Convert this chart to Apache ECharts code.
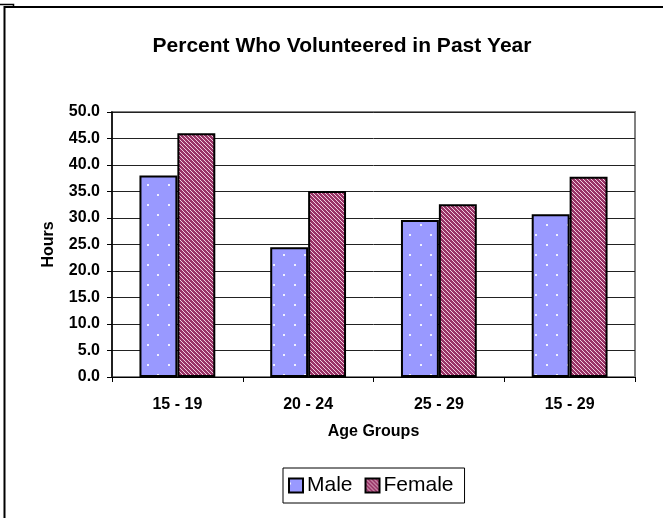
<!DOCTYPE html>
<html><head><meta charset="utf-8">
<script src="https://cdn.jsdelivr.net/npm/echarts@6/dist/echarts.min.js"></script>
<style>html,body{margin:0;padding:0;background:#fff}#c{width:663px;height:518px}</style>
</head><body><div id="c"></div>
<script>
const categories = ['15 - 19', '20 - 24', '25 - 29', '15 - 29'];
const maleValues = [38.0, 24.5, 29.6, 30.7];
const femaleValues = [46.0, 35.1, 32.6, 37.8];
const yTicks = [0, 5, 10, 15, 20, 25, 30, 35, 40, 45, 50];

function dotPattern() {
  const c = document.createElement('canvas'); c.width = 21; c.height = 20;
  const g = c.getContext('2d');
  g.fillStyle = '#9999FF'; g.fillRect(0, 0, 21, 20);
  g.fillStyle = '#EEEEFF';
  g.fillRect(0, 4, 2, 2); g.fillRect(10, 14, 2, 2);
  return c;
}
function stripePattern() {
  const c = document.createElement('canvas'); c.width = 8; c.height = 8;
  const g = c.getContext('2d');
  const img = g.createImageData(8, 8);
  for (let y = 0; y < 8; y++) for (let x = 0; x < 8; x++) {
    const i = (y * 8 + x) * 4;
    const light = ((x - y + 16) % 4) === 0;
    img.data[i] = light ? 240 : 153; img.data[i+1] = light ? 205 : 51; img.data[i+2] = light ? 222 : 102; img.data[i+3] = 255;
  }
  g.putImageData(img, 0, 0);
  return c;
}
const maleFill = { image: dotPattern(), repeat: 'repeat' };
const femaleFill = { image: stripePattern(), repeat: 'repeat' };

const chart = echarts.init(document.getElementById('c'));
const FONT = 'Liberation Sans, Arial, sans-serif';
chart.setOption({
  animation: false,
  title: { text: 'Percent Who Volunteered in Past Year', left: 337, top: 31, textAlign: 'center',
    textStyle: { fontFamily: FONT, fontSize: 21, fontWeight: 'bold', color: '#000' } },
  grid: { left: 112, right: 28, top: 112, bottom: 141, containLabel: false,
    show: true, borderColor: '#808080', borderWidth: 2 },
  legend: { left: 283, top: 468, orient: 'horizontal', itemWidth: 14, itemHeight: 14, itemGap: 12,
    icon: 'rect', borderColor: '#000', borderWidth: 1, padding: [7, 11, 7, 5],
    textStyle: { fontFamily: FONT, fontSize: 21, color: '#000', padding: [0, 0, 0, -1] },
    data: ['Male', 'Female'] },
  xAxis: { type: 'category', data: categories,
    name: 'Age Groups', nameLocation: 'middle', nameGap: 47,
    nameTextStyle: { fontFamily: FONT, fontSize: 16, fontWeight: 'bold', color: '#000' },
    axisLine: { lineStyle: { color: '#000', width: 1 } },
    axisTick: { show: true, alignWithLabel: false, length: 5, lineStyle: { color: '#000' } },
    axisLabel: { fontFamily: FONT, fontSize: 16, fontWeight: 'bold', color: '#000', margin: 20 } },
  yAxis: { type: 'value', min: 0, max: 50, interval: 5,
    name: 'Hours', nameLocation: 'middle', nameGap: 55, nameRotate: 90,
    nameTextStyle: { fontFamily: FONT, fontSize: 16, fontWeight: 'bold', color: '#000' },
    axisLine: { show: true, lineStyle: { color: '#000', width: 1.5 } },
    axisTick: { show: true, inside: false, length: 5, lineStyle: { color: '#000' } },
    splitLine: { show: true, lineStyle: { color: '#222', width: 1 } },
    axisLabel: { fontFamily: FONT, fontSize: 16, fontWeight: 'bold', color: '#000', margin: 12,
      formatter: v => yTicks.includes(v) ? v.toFixed(1) : '' } },
  series: [
    { name: 'Male', type: 'bar', data: maleValues, barGap: '0%', barCategoryGap: '42%',
      itemStyle: { color: maleFill, borderColor: '#000', borderWidth: 2 } },
    { name: 'Female', type: 'bar', data: femaleValues, barGap: '0%', barCategoryGap: '42%',
      itemStyle: { color: femaleFill, borderColor: '#000', borderWidth: 2 } }
  ],
  graphic: [
    { type: 'polyline', shape: { points: [[0, 4.5], [13.5, 4.5], [13.5, 7]] }, style: { stroke: '#000', lineWidth: 1.5, fill: null } },
    { type: 'polyline', shape: { points: [[4.5, 520], [4.5, 7], [670, 7]] }, style: { stroke: '#000', lineWidth: 2, fill: null } }
  ]
});
</script></body></html>
